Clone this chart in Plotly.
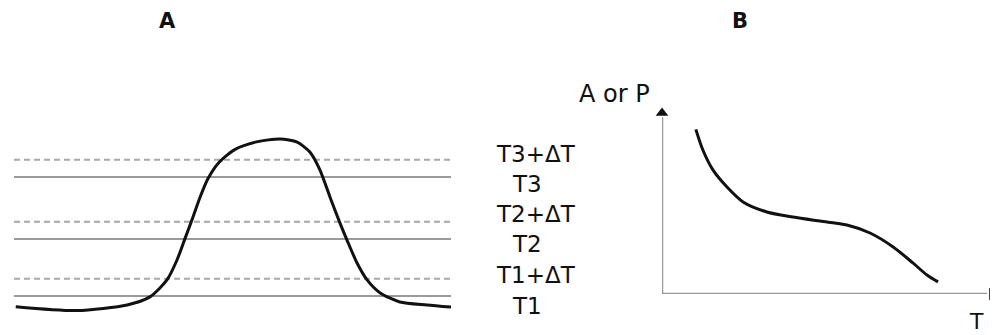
import plotly.graph_objects as go

# ---------------- Panel A data (time vs temperature, schematic) ----------------
time_a = [0.4, 14.4, 25.9, 31.1, 35.0, 37.3, 39.1, 40.7, 42.6, 44.4, 46.9, 50.5,
          55.5, 60.9, 64.8, 67.7, 70.0, 72.3, 74.6, 76.2, 78.5, 80.8, 83.8, 88.3,
          94.5, 100]
temp_a = [16.4, 15.1, 17.0, 19.7, 25.4, 32.1, 39.2, 45.5, 53.3, 59.5, 64.9, 69.2,
          71.8, 72.8, 71.7, 68.4, 62.4, 53.3, 44.5, 38.8, 31.1, 25.4, 21.0, 18.0,
          17.0, 16.3]
levels = [20, 39.2, 60]
delta_t = 5.8
level_names = ["T1", "T2", "T3"]
time_span = [0, 100]

# ---------------- Panel B data (A or P vs T, schematic) ----------------
temp_b = [1.01, 1.22, 1.52, 1.94, 2.42, 3.13, 3.91, 4.72, 5.52, 6.21, 6.90, 7.49,
          7.91, 8.24]
ap_b = [8.85, 7.74, 6.67, 5.75, 4.95, 4.41, 4.14, 3.92, 3.71, 3.28, 2.53, 1.67,
        1.02, 0.65]
axis_len_x = 9.7
axis_len_y = 9.5
arrow_x = 9.85
arrow_y = 9.73

# page body has an 8px margin: figure is drawn 8px in from the window corner
OX, OY = 8, 8
W, H = 998 - OX, 335 - OY
FONT = "DejaVu Sans"


def fx(x):
    return (x - OX) / W


def fy(y):
    return 1 - (y - OY) / H


fig = go.Figure()

# Panel A: level lines
for lv in levels:
    fig.add_trace(go.Scatter(x=time_span, y=[lv + delta_t] * 2, mode="lines",
                             line=dict(color="#a8a8a8", width=2, dash="6px,4px"),
                             xaxis="x", yaxis="y", cliponaxis=False, hoverinfo="skip"))
    fig.add_trace(go.Scatter(x=time_span, y=[lv] * 2, mode="lines",
                             line=dict(color="#9a9a9a", width=2),
                             xaxis="x", yaxis="y", cliponaxis=False, hoverinfo="skip"))

# Panel A: temperature curve
fig.add_trace(go.Scatter(x=time_a, y=temp_a, mode="lines",
                         line=dict(color="#111111", width=3, shape="spline", smoothing=0.7),
                         xaxis="x", yaxis="y", cliponaxis=False))

# Panel B: axes
fig.add_trace(go.Scatter(x=[0, 0], y=[0, axis_len_y], mode="lines",
                         line=dict(color="#999999", width=2.5),
                         xaxis="x2", yaxis="y2", cliponaxis=False))
fig.add_trace(go.Scatter(x=[0, axis_len_x], y=[0, 0], mode="lines",
                         line=dict(color="#999999", width=2.5),
                         xaxis="x2", yaxis="y2", cliponaxis=False))
fig.add_trace(go.Scatter(x=[0], y=[arrow_y], mode="markers",
                         marker=dict(symbol="triangle-up", size=11, color="#111111"),
                         xaxis="x2", yaxis="y2", cliponaxis=False))
fig.add_trace(go.Scatter(x=[arrow_x], y=[0], mode="markers",
                         marker=dict(symbol="triangle-right", size=11, color="#111111"),
                         xaxis="x2", yaxis="y2", cliponaxis=False))

# Panel B: curve
fig.add_trace(go.Scatter(x=temp_b, y=ap_b, mode="lines",
                         line=dict(color="#111111", width=3, shape="spline", smoothing=0.8),
                         xaxis="x2", yaxis="y2", cliponaxis=False))

annotations = []


def add_text(text, x, y, size, bold=False):
    annotations.append(dict(text=f"<b>{text}</b>" if bold else text, x=fx(x), y=fy(y),
                            xref="paper", yref="paper", showarrow=False,
                            xanchor="center", yanchor="middle",
                            font=dict(family=FONT, size=size, color="#111111")))


add_text("A", 167, 21, 21, bold=True)
add_text("B", 740, 21, 21, bold=True)

label_y = [306, 275, 244, 214, 184, 154]
label_txt = []
for nm in level_names:
    label_txt += [nm, nm + "+ΔT"]
for t, yy in zip(label_txt, label_y):
    xc = 536 if "+" in t else 527
    add_text(t, xc, yy, 23)

add_text("A or P", 614, 94, 24)
add_text("T", 976, 321, 22)

fig.update_layout(
    width=W, height=H,
    margin=dict(l=0, r=0, t=0, b=0),
    paper_bgcolor="white", plot_bgcolor="white",
    showlegend=False,
    xaxis=dict(domain=[fx(14), fx(451)], range=[0, 100], visible=False),
    yaxis=dict(domain=[fy(335), fy(8)], range=[6.89, 119.5 - 8 / 2.975], visible=False),
    xaxis2=dict(domain=[fx(662), fx(997)], range=[0, 10], visible=False),
    yaxis2=dict(domain=[fy(294), fy(108)], range=[0, 10], visible=False),
    annotations=annotations,
)

fig.write_html("out.html")
